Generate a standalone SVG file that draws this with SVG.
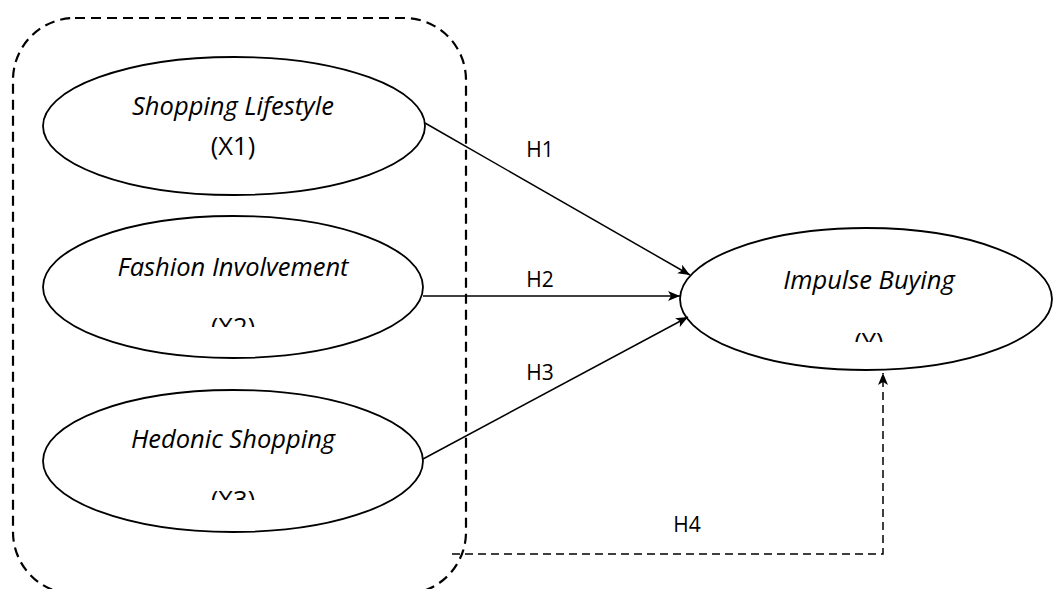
<svg xmlns="http://www.w3.org/2000/svg" width="1053" height="589" viewBox="0 0 1053 589">
<style>
.node{fill:#fff;stroke:#000;stroke-width:1.8}
.t{font-family:"Open Sans","Liberation Sans",sans-serif;font-style:italic;font-size:25.5px;fill:#000;text-anchor:middle}
.c{font-family:"Open Sans","Liberation Sans",sans-serif;font-size:25.5px;fill:#000;text-anchor:middle}
.lbl{font-family:"Open Sans","Liberation Sans",sans-serif;font-size:21px;fill:#000;text-anchor:middle}
.edge{fill:none;stroke:#000;stroke-width:1.5}
.dash{stroke-dasharray:8 5}
</style>
<defs>
<marker id="arr" viewBox="0 0 12 10" refX="12" refY="5" markerWidth="12" markerHeight="10" markerUnits="userSpaceOnUse" orient="auto">
<path d="M0,0 L12,5 L0,10 L3,5 Z" fill="#000"/>
</marker>
<clipPath id="c2"><rect x="0" y="0" width="1053" height="327"/></clipPath>
<clipPath id="c3"><rect x="0" y="0" width="1053" height="500"/></clipPath>
<clipPath id="cy"><rect x="0" y="0" width="1053" height="342"/></clipPath>
</defs>
<rect id="group-box" x="13" y="18" width="453" height="576" rx="62" ry="62" fill="none" stroke="#000" stroke-width="2.2" stroke-dasharray="10 6"/>
<g id="x1">
<ellipse class="node" cx="234" cy="126" rx="191" ry="69"/>
<text class="t" x="233" y="115">Shopping Lifestyle</text>
<text class="c" x="233" y="155">(X1)</text>
</g>
<g id="x2">
<ellipse class="node" cx="233" cy="287" rx="190" ry="71"/>
<text class="t" x="233" y="276">Fashion Involvement</text>
<text class="c" x="233" y="336" clip-path="url(#c2)">(X2)</text>
</g>
<g id="x3">
<ellipse class="node" cx="233" cy="461" rx="190" ry="71"/>
<text class="t" x="233" y="448">Hedonic Shopping</text>
<text class="c" x="233" y="509" clip-path="url(#c3)">(X3)</text>
</g>
<g id="y">
<ellipse class="node" cx="866" cy="299" rx="186" ry="71"/>
<text class="t" x="869" y="289">Impulse Buying</text>
<text class="c" x="869" y="351" clip-path="url(#cy)">(Y)</text>
</g>
<g id="connectors">
<line class="edge" x1="425" y1="123" x2="690" y2="275" marker-end="url(#arr)"/>
<line class="edge" x1="423" y1="296" x2="680" y2="296" marker-end="url(#arr)"/>
<line class="edge" x1="423" y1="459" x2="688" y2="317" marker-end="url(#arr)"/>
<polyline class="edge dash" points="452,554 883,554 883,373" marker-end="url(#arr)"/>
<text class="lbl" x="540" y="157">H1</text>
<text class="lbl" x="540" y="287">H2</text>
<text class="lbl" x="540" y="380">H3</text>
<text class="lbl" x="687" y="532">H4</text>
</g>
</svg>
